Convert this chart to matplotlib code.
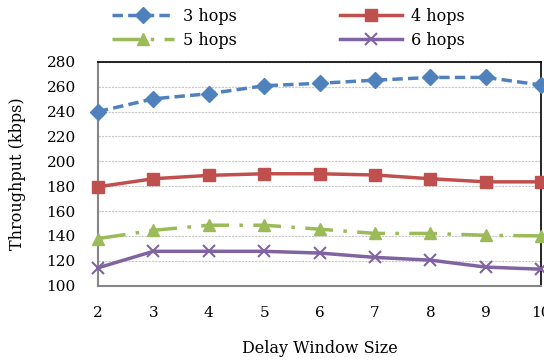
import matplotlib
matplotlib.use("Agg")
import matplotlib.pyplot as plt

plt.rcParams['font.family'] = ['DejaVu Serif']

window_sizes = [2, 3, 4, 5, 6, 7, 8, 9, 10]
hops3 = [240, 250.3, 254.4, 260.8, 262.8, 265.3, 267.5, 267.5, 261.4]
hops4 = [179.5, 186, 188.7, 190, 190, 189, 186, 183.5, 183.5]
hops5 = [137.8, 144.5, 148.6, 148.6, 145.4, 142, 142, 140.5, 140]
hops6 = [114.3, 127.6, 127.6, 127.6, 126.2, 122.7, 120.5, 114.9, 113.2]
y_ticks = [100, 120, 140, 160, 180, 200, 220, 240, 260, 280]

fig = plt.figure(figsize=(5.44, 3.62), dpi=100)
ax = fig.add_axes([0.180, 0.211, 0.815, 0.618])

l3, = ax.plot(window_sizes, hops3, color='#4F81BD', lw=2.5, ls=(0, (3, 1.5)),
              marker='D', ms=8, label='3 hops', clip_on=False, zorder=3)
l4, = ax.plot(window_sizes, hops4, color='#C0504D', lw=2.5, ls='-',
              marker='s', ms=8, label='4 hops', clip_on=False, zorder=3)
l5, = ax.plot(window_sizes, hops5, color='#9BBB59', lw=2.5, ls=(0, (8, 3, 1, 3)),
              marker='^', ms=9, label='5 hops', clip_on=False, zorder=3)
l6, = ax.plot(window_sizes, hops6, color='#8064A2', lw=2.5, ls='-',
              marker='x', ms=9, mew=1.5, label='6 hops', clip_on=False, zorder=3)

ax.set_xlim(2, 10)
ax.set_ylim(100, 280)
ax.set_xticks(window_sizes)
ax.set_yticks(y_ticks)
ax.tick_params(length=0, labelsize=11)
ax.tick_params(axis='x', pad=15)
ax.tick_params(axis='y', pad=16)
ax.yaxis.grid(True, color='#c8c8c8', lw=0.8, ls=(0, (2, 1)))
ax.set_axisbelow(True)

for side in ['left', 'bottom']:
    ax.spines[side].set_color('#868686')
    ax.spines[side].set_linewidth(1.5)
for side in ['top', 'right']:
    ax.spines[side].set_color('black')
    ax.spines[side].set_linewidth(1.2)

ax.set_xlabel('Delay Window Size', fontsize=11.5, labelpad=14)
ax.set_ylabel('Throughput (kbps)', fontsize=11.5, labelpad=15)

# row-major order like the original: 3 | 4 on top, 5 | 6 below
fig.legend([l3, l5, l4, l6], ['3 hops', '5 hops', '4 hops', '6 hops'],
           loc='upper left', bbox_to_anchor=(110 / 544, 0.983), ncol=2,
           frameon=False, fontsize=11.5, handlelength=3.9, handletextpad=0.6,
           columnspacing=6.4, labelspacing=0.45, borderpad=0.1, borderaxespad=0)

fig.savefig('out.png', dpi=100)
